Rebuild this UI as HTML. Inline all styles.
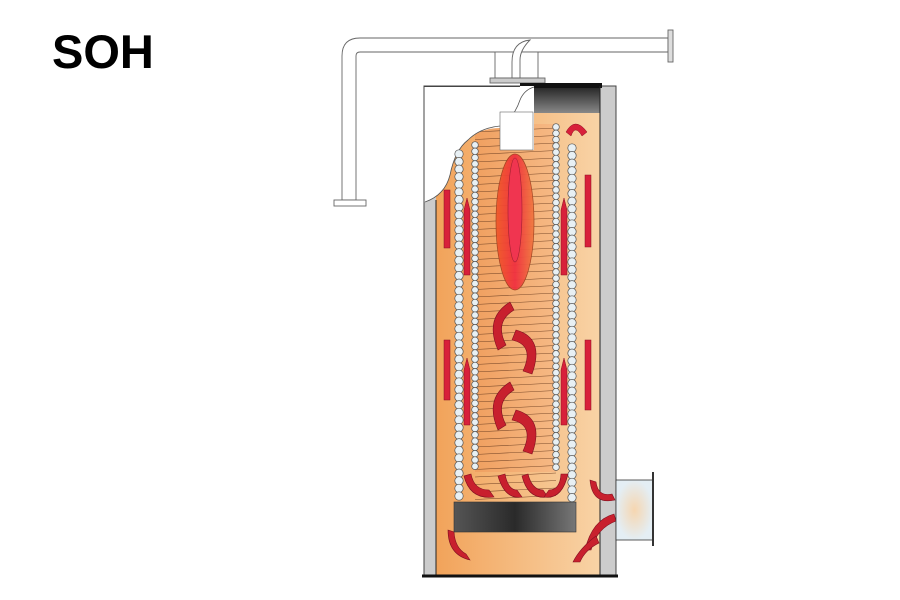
<!DOCTYPE html>
<html><head><meta charset="utf-8"><style>
html,body{margin:0;padding:0;background:#fff;width:900px;height:600px;overflow:hidden}
.t{position:absolute;left:52px;top:24px;font:bold 47px "Liberation Sans",sans-serif;color:#000}
svg{position:absolute;left:0;top:0}
</style></head><body>
<div class="t">SOH</div>
<svg id="s" width="900" height="600" viewBox="0 0 900 600">
<defs>
<linearGradient id="og" x1="0" x2="1"><stop offset="0" stop-color="#f2a35a"/><stop offset="1" stop-color="#f8d3a6"/></linearGradient>
<linearGradient id="ig" x1="0" x2="1"><stop offset="0" stop-color="#f0a060"/><stop offset="1" stop-color="#f6b985"/></linearGradient>
<linearGradient id="dg" x1="0" x2="1"><stop offset="0" stop-color="#555"/><stop offset=".5" stop-color="#2a2a2a"/><stop offset="1" stop-color="#777"/></linearGradient>
<linearGradient id="cg" x1="0" y1="0" x2="0" y2="1"><stop offset="0" stop-color="#2a2a2a"/><stop offset="1" stop-color="#888"/></linearGradient>
<linearGradient id="fg" x1="0" x2="1"><stop offset="0" stop-color="#f05a28"/><stop offset=".5" stop-color="#f03040"/><stop offset="1" stop-color="#f07a40"/></linearGradient>
<radialGradient id="pg"><stop offset="0" stop-color="#f6d6b0"/><stop offset="1" stop-color="#e4eef4"/></radialGradient>
</defs>
<g fill="#fff" stroke="#666" stroke-width=".9">
<path d="M360 38 H668 V52 H360 Q356 52 356 56 V200 H342 V56 Q342 38 360 38 Z"/>
<rect x="334" y="200" width="32" height="6"/>
<rect x="668" y="30" width="5" height="32" fill="#ddd"/>
<rect x="495" y="52" width="43" height="26"/>
<rect x="490" y="78" width="55" height="5" fill="#ccc"/>
<path d="M512 78 V62 Q512 42 530 40 Q520 50 520 60 V78 Z"/>
</g>
<rect x="424" y="86" width="192" height="490" fill="#ccc" stroke="#444"/>
<rect x="436" y="86" width="164" height="489" fill="url(#og)"/>
<rect x="534" y="88" width="66" height="25" fill="url(#cg)"/>
<rect x="520" y="83" width="82" height="5" fill="#111"/>
<line x1="600" y1="86" x2="600" y2="576" stroke="#222"/>
<line x1="436" y1="200" x2="436" y2="576" stroke="#222"/>
<line x1="422" y1="576" x2="618" y2="576" stroke="#111" stroke-width="3"/>
<rect x="475" y="124" width="81" height="348" fill="url(#ig)"/>
<g id="lines" stroke="#7a4a2a" stroke-width=".6"></g>
<ellipse cx="515" cy="222" rx="19" ry="68" fill="url(#fg)" stroke="#a04020" stroke-width=".7" opacity=".95"/>
<ellipse cx="515" cy="210" rx="7" ry="52" fill="#f03550" stroke="#a02030" stroke-width=".6"/>
<path d="M424.5 86 H534 V150 H500 V128 Q480 128 468 140 Q455 150 450 175 Q445 195 424.5 202 Z" fill="#fff"/>
<line x1="424" y1="86.5" x2="520" y2="86.5" stroke="#444"/>
<path d="M534 87 Q524 90 520 100 Q514 118 500 126 Q480 128 468 140 Q455 150 450 175 Q445 195 425 202" fill="none" stroke="#555" stroke-width=".8"/>
<rect x="500" y="112" width="33" height="38" fill="#fff" stroke="#666" stroke-width=".6"/>
<g id="coils" fill="#e8f0f4" stroke="#555" stroke-width=".7"></g>
<g fill="#d8203a" stroke="#8a1020" stroke-width=".5">
<rect x="444" y="190" width="6" height="58"/><rect x="444" y="340" width="6" height="60"/>
<rect x="585" y="175" width="6" height="72"/><rect x="585" y="340" width="6" height="70"/>
<path d="M464 210 L467 198 L470 210 V275 H464Z"/><path d="M464 370 L467 358 L470 370 V425 H464Z"/>
<path d="M561 210 L564 198 L567 210 V275 H561Z"/><path d="M561 370 L564 358 L567 370 V425 H561Z"/>
<path d="M566 132 Q575 116 587 132 L582 136 Q575 124 571 136Z"/>
</g>
<g fill="#c8202e" stroke="#801020" stroke-width=".6">
<path d="M510 302 Q484 318 498 350 L506 345 Q494 322 514 310Z"/>
<path d="M516 330 Q545 338 532 374 L523 371 Q535 345 512 340Z"/>
<path d="M510 382 Q484 398 498 430 L506 425 Q494 402 514 390Z"/>
<path d="M516 410 Q545 418 532 454 L523 451 Q535 425 512 420Z"/>
<path d="M464 476 Q470 500 494 497 L489 490 Q474 490 471 474Z"/>
<path d="M498 476 Q505 500 522 497 L517 490 Q508 490 505 474Z"/>
<path d="M522 476 Q528 500 548 497 L543 490 Q532 490 528 474Z"/>
<path d="M568 474 Q562 500 544 497 L549 490 Q560 490 561 474Z"/>
<path d="M590 480 Q592 505 615 500 L612 494 Q598 497 596 482Z"/>
<path d="M614 514 Q592 520 585 550 L591 550 Q597 528 616 521Z"/>
<path d="M448 530 Q448 555 470 560 L466 554 Q455 548 454 532Z"/>
<path d="M596 536 Q580 548 573 562 L580 562 Q585 550 599 543Z"/>
</g>
<rect x="454" y="502" width="122" height="30" fill="url(#dg)" stroke="#333" stroke-width=".6"/>
<rect x="616" y="480" width="37" height="60" fill="url(#pg)" stroke="#333" stroke-width=".8"/>
<line x1="653" y1="472" x2="653" y2="546" stroke="#333" stroke-width="2"/>
</svg>
<script>
var ns="http://www.w3.org/2000/svg",c=document.getElementById('coils'),l=document.getElementById('lines');
function circ(x,y,r){var e=document.createElementNS(ns,'circle');e.setAttribute('cx',x);e.setAttribute('cy',y);e.setAttribute('r',r);c.appendChild(e);}
for(var y=154;y<=500;y+=7.6)circ(459,y,4.2);
for(var y=145;y<=470;y+=6.3)circ(475,y,3.3);
for(var y=127;y<=470;y+=6.3)circ(556,y,3.3);
for(var y=148;y<=500;y+=7.6)circ(572,y,4.2);
for(var y=132;y<=500;y+=7.5){var e=document.createElementNS(ns,'line');e.setAttribute('x1',475);e.setAttribute('y1',y);e.setAttribute('x2',556);e.setAttribute('y2',y-4);l.appendChild(e);}
</script>
</body></html>
